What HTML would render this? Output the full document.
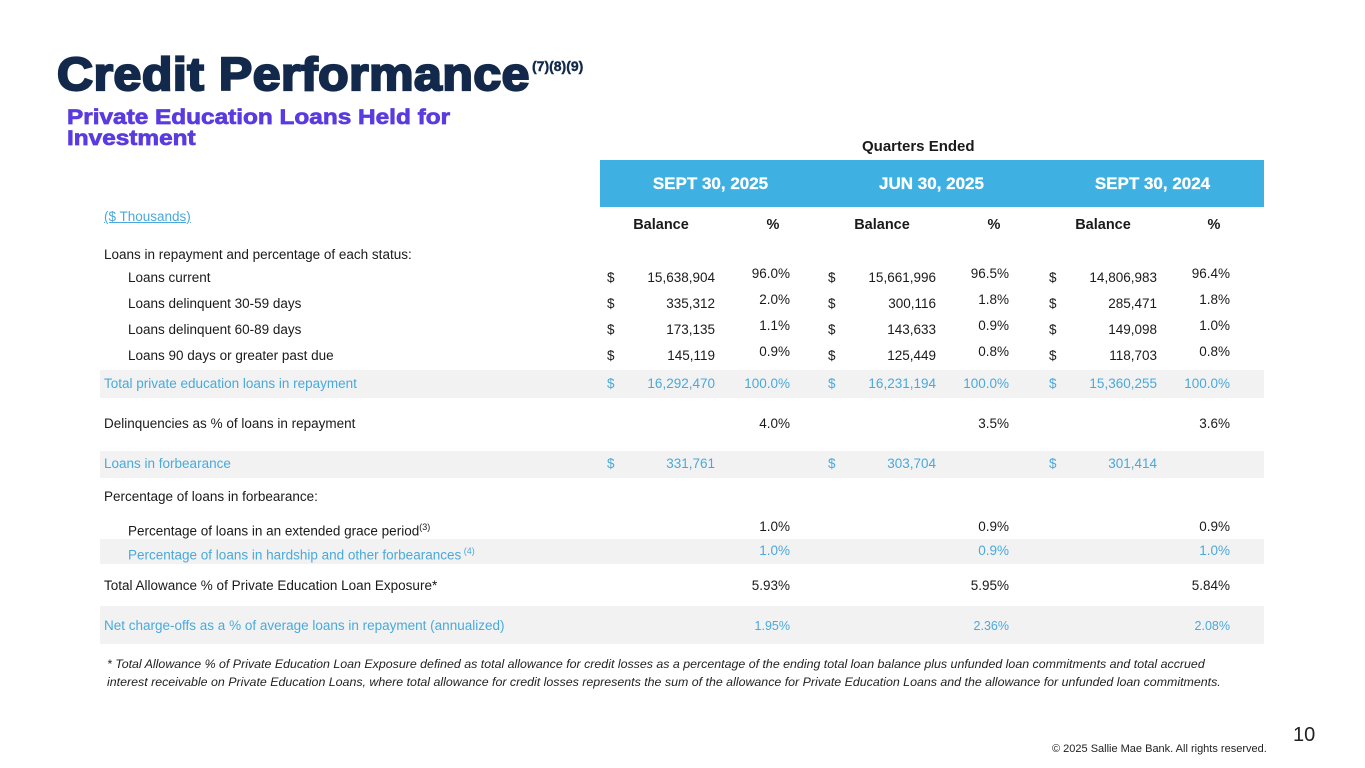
<!DOCTYPE html>
<html><head><meta charset="utf-8"><style>
*{margin:0;padding:0;box-sizing:border-box}
body{width:1365px;height:768px;background:#fff;position:relative;overflow:hidden;font-family:"Liberation Sans",Arial,sans-serif;color:#1a1a1a}
.a{position:absolute;white-space:nowrap}
.t{font-size:13.5px;line-height:16px}
.r{text-align:right}
.c{text-align:center}
.blue{color:#4aa9dc}
.band{position:absolute;left:100px;width:1164px;background:#f2f2f2}
</style></head><body>
<div class="a" style="left:57px;top:48px;font-size:46px;font-weight:bold;color:#13294b;-webkit-text-stroke:2.2px #13294b;letter-spacing:0.5px;line-height:52px;transform:scaleX(1.085);transform-origin:left top">Credit Performance</div>
<div class="a" style="left:532px;top:58px;font-size:14px;font-weight:bold;color:#13294b;-webkit-text-stroke:0.4px #13294b">(7)(8)(9)</div>
<div class="a" style="left:67px;top:107px;font-size:21px;font-weight:bold;color:#5a3be0;-webkit-text-stroke:0.7px #5a3be0;line-height:21px;transform:scaleX(1.16);transform-origin:left top">Private Education Loans Held for<br>Investment</div>
<div class="a" style="left:862px;top:138px;font-size:15px;font-weight:bold;color:#1a1a1a">Quarters Ended</div>
<div class="a" style="left:600px;top:160px;width:664px;height:47px;background:#3eb0e2"></div>
<div class="a c" style="left:600px;top:174px;width:221px;font-size:17px;font-weight:bold;color:#fff;-webkit-text-stroke:0.3px #fff">SEPT 30, 2025</div>
<div class="a c" style="left:821px;top:174px;width:221px;font-size:17px;font-weight:bold;color:#fff;-webkit-text-stroke:0.3px #fff">JUN 30, 2025</div>
<div class="a c" style="left:1042px;top:174px;width:221px;font-size:17px;font-weight:bold;color:#fff;-webkit-text-stroke:0.3px #fff">SEPT 30, 2024</div>
<div class="a t blue" style="left:104px;top:209px;text-decoration:underline">($ Thousands)</div>
<div class="a c t" style="left:611px;top:217px;width:100px;font-weight:bold;font-size:14.5px">Balance</div>
<div class="a c t" style="left:743px;top:217px;width:60px;font-weight:bold;font-size:14.5px">%</div>
<div class="a c t" style="left:832px;top:217px;width:100px;font-weight:bold;font-size:14.5px">Balance</div>
<div class="a c t" style="left:964px;top:217px;width:60px;font-weight:bold;font-size:14.5px">%</div>
<div class="a c t" style="left:1053px;top:217px;width:100px;font-weight:bold;font-size:14.5px">Balance</div>
<div class="a c t" style="left:1184px;top:217px;width:60px;font-weight:bold;font-size:14.5px">%</div>

<div class="band" style="top:370px;height:28px"></div>
<div class="band" style="top:451px;height:27px"></div>
<div class="band" style="top:539px;height:25px"></div>
<div class="band" style="top:606px;height:38px"></div>

<div class="a t" style="left:104px;top:247px">Loans in repayment and percentage of each status:</div>

<div class="a t" style="left:128px;top:270px">Loans current</div>
<div class="a t" style="left:607px;top:270px">$</div><div class="a t r" style="left:615px;top:270px;width:100px">15,638,904</div><div class="a t r" style="left:730px;top:266px;width:60px">96.0%</div>
<div class="a t" style="left:828px;top:270px">$</div><div class="a t r" style="left:836px;top:270px;width:100px">15,661,996</div><div class="a t r" style="left:949px;top:266px;width:60px">96.5%</div>
<div class="a t" style="left:1049px;top:270px">$</div><div class="a t r" style="left:1057px;top:270px;width:100px">14,806,983</div><div class="a t r" style="left:1170px;top:266px;width:60px">96.4%</div>

<div class="a t" style="left:128px;top:296px">Loans delinquent 30-59 days</div>
<div class="a t" style="left:607px;top:296px">$</div><div class="a t r" style="left:615px;top:296px;width:100px">335,312</div><div class="a t r" style="left:730px;top:292px;width:60px">2.0%</div>
<div class="a t" style="left:828px;top:296px">$</div><div class="a t r" style="left:836px;top:296px;width:100px">300,116</div><div class="a t r" style="left:949px;top:292px;width:60px">1.8%</div>
<div class="a t" style="left:1049px;top:296px">$</div><div class="a t r" style="left:1057px;top:296px;width:100px">285,471</div><div class="a t r" style="left:1170px;top:292px;width:60px">1.8%</div>

<div class="a t" style="left:128px;top:322px">Loans delinquent 60-89 days</div>
<div class="a t" style="left:607px;top:322px">$</div><div class="a t r" style="left:615px;top:322px;width:100px">173,135</div><div class="a t r" style="left:730px;top:318px;width:60px">1.1%</div>
<div class="a t" style="left:828px;top:322px">$</div><div class="a t r" style="left:836px;top:322px;width:100px">143,633</div><div class="a t r" style="left:949px;top:318px;width:60px">0.9%</div>
<div class="a t" style="left:1049px;top:322px">$</div><div class="a t r" style="left:1057px;top:322px;width:100px">149,098</div><div class="a t r" style="left:1170px;top:318px;width:60px">1.0%</div>

<div class="a t" style="left:128px;top:348px">Loans 90 days or greater past due</div>
<div class="a t" style="left:607px;top:348px">$</div><div class="a t r" style="left:615px;top:348px;width:100px">145,119</div><div class="a t r" style="left:730px;top:344px;width:60px">0.9%</div>
<div class="a t" style="left:828px;top:348px">$</div><div class="a t r" style="left:836px;top:348px;width:100px">125,449</div><div class="a t r" style="left:949px;top:344px;width:60px">0.8%</div>
<div class="a t" style="left:1049px;top:348px">$</div><div class="a t r" style="left:1057px;top:348px;width:100px">118,703</div><div class="a t r" style="left:1170px;top:344px;width:60px">0.8%</div>

<div class="a t blue" style="left:104px;top:376px">Total private education loans in repayment</div>
<div class="a t blue" style="left:607px;top:376px">$</div><div class="a t r blue" style="left:615px;top:376px;width:100px">16,292,470</div><div class="a t r blue" style="left:730px;top:376px;width:60px">100.0%</div>
<div class="a t blue" style="left:828px;top:376px">$</div><div class="a t r blue" style="left:836px;top:376px;width:100px">16,231,194</div><div class="a t r blue" style="left:949px;top:376px;width:60px">100.0%</div>
<div class="a t blue" style="left:1049px;top:376px">$</div><div class="a t r blue" style="left:1057px;top:376px;width:100px">15,360,255</div><div class="a t r blue" style="left:1170px;top:376px;width:60px">100.0%</div>

<div class="a t" style="left:104px;top:416px">Delinquencies as % of loans in repayment</div>
<div class="a t r" style="left:730px;top:416px;width:60px">4.0%</div>
<div class="a t r" style="left:949px;top:416px;width:60px">3.5%</div>
<div class="a t r" style="left:1170px;top:416px;width:60px">3.6%</div>

<div class="a t blue" style="left:104px;top:456px">Loans in forbearance</div>
<div class="a t blue" style="left:607px;top:456px">$</div><div class="a t r blue" style="left:615px;top:456px;width:100px">331,761</div>
<div class="a t blue" style="left:828px;top:456px">$</div><div class="a t r blue" style="left:836px;top:456px;width:100px">303,704</div>
<div class="a t blue" style="left:1049px;top:456px">$</div><div class="a t r blue" style="left:1057px;top:456px;width:100px">301,414</div>

<div class="a t" style="left:104px;top:489px">Percentage of loans in forbearance:</div>

<div class="a t" style="left:128px;top:519px">Percentage of loans in an extended grace period<sup style="font-size:9px">(3)</sup></div>
<div class="a t r" style="left:730px;top:519px;width:60px">1.0%</div>
<div class="a t r" style="left:949px;top:519px;width:60px">0.9%</div>
<div class="a t r" style="left:1170px;top:519px;width:60px">0.9%</div>

<div class="a t blue" style="left:128px;top:543px">Percentage of loans in hardship and other forbearances<sup style="font-size:9px"> (4)</sup></div>
<div class="a t r blue" style="left:730px;top:543px;width:60px">1.0%</div>
<div class="a t r blue" style="left:949px;top:543px;width:60px">0.9%</div>
<div class="a t r blue" style="left:1170px;top:543px;width:60px">1.0%</div>

<div class="a t" style="left:104px;top:578px">Total Allowance % of Private Education Loan Exposure*</div>
<div class="a t r" style="left:730px;top:578px;width:60px">5.93%</div>
<div class="a t r" style="left:949px;top:578px;width:60px">5.95%</div>
<div class="a t r" style="left:1170px;top:578px;width:60px">5.84%</div>

<div class="a t blue" style="left:104px;top:618px">Net charge-offs as a % of average loans in repayment (annualized)</div>
<div class="a t r blue" style="left:730px;top:618px;width:60px;font-size:12.5px">1.95%</div>
<div class="a t r blue" style="left:949px;top:618px;width:60px;font-size:12.5px">2.36%</div>
<div class="a t r blue" style="left:1170px;top:618px;width:60px;font-size:12.5px">2.08%</div>

<div class="a" style="left:107px;top:655px;font-size:12.4px;font-style:italic;line-height:18px;color:#222">* Total Allowance % of Private Education Loan Exposure defined as total allowance for credit losses as a percentage of the ending total loan balance plus unfunded loan commitments and total accrued<br>interest receivable on Private Education Loans, where total allowance for credit losses represents the sum of the allowance for Private Education Loans and the allowance for unfunded loan commitments.</div>

<div class="a" style="left:1293px;top:724px;font-size:20px;color:#222">10</div>
<div class="a" style="left:1052px;top:743px;font-size:11px;color:#222">© 2025 Sallie Mae Bank. All rights reserved.</div>
</body></html>
